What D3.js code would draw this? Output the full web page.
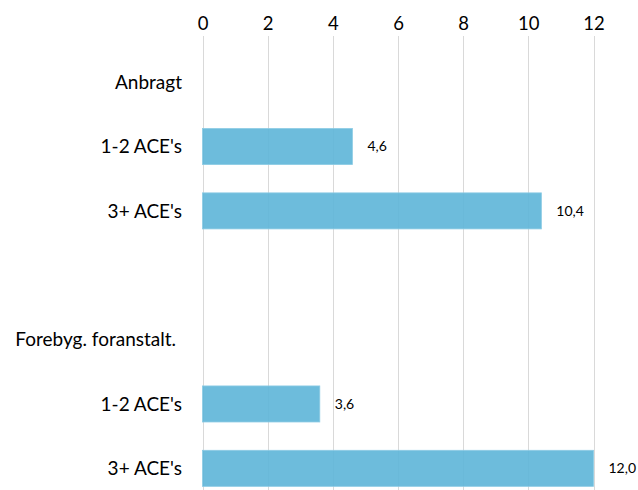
<!DOCTYPE html>
<html><head><meta charset="utf-8">
<script src="https://cdn.jsdelivr.net/npm/d3@7"></script>
<style>body{margin:0;background:#fff}svg{display:block}</style>
</head><body>
<svg id="c" width="638" height="490"></svg>
<script>
const rows = ["Anbragt", "1-2 ACE's a", "3+ ACE's a", "blank", "Forebyg. foranstalt.", "1-2 ACE's b", "3+ ACE's b"];
const rowLabels = ["Anbragt", "1-2 ACE's", "3+ ACE's", "", "Forebyg. foranstalt.", "1-2 ACE's", "3+ ACE's"];
const values = [null, 4.6, 10.4, null, null, 3.6, 12.0];
const ticks = [0, 2, 4, 6, 8, 10, 12];

const svg = d3.select("#c");
const font = "Lato, 'Open Sans', sans-serif";
const x = d3.scaleLinear().domain([0, 12]).range([202.5, 593.5]);
const y = d3.scaleBand().domain(rows).range([50, 500.5]).paddingInner(0.44).paddingOuter(0.22);

// gridlines
svg.append("g").selectAll("line").data(ticks).join("line")
  .attr("x1", d => Math.round(x(d)) + 0.5).attr("x2", d => Math.round(x(d)) + 0.5)
  .attr("y1", 36).attr("y2", 490)
  .attr("stroke", "#d9d9d9").attr("stroke-width", 1);

// top axis labels
const ax = svg.append("g").attr("transform", "translate(0,30)")
  .call(d3.axisTop(x).tickValues(ticks).tickSize(0).tickPadding(0).tickFormat(d3.format("d")));
ax.select(".domain").remove();
ax.selectAll("text").attr("font-family", font).attr("font-size", 18.5).attr("fill", "#000");

// bars
const data = rows.map((r, i) => ({r, label: rowLabels[i], v: values[i]}));
svg.append("g").selectAll("rect").data(data.filter(d => d.v != null)).join("rect")
  .attr("x", x(0)).attr("y", d => y(d.r))
  .attr("width", d => x(d.v) - x(0)).attr("height", y.bandwidth())
  .attr("fill", "#5db5d8").attr("fill-opacity", 0.9)
  .attr("stroke", "#8ccbe4").attr("stroke-width", 0.8);

// value labels
svg.append("g").selectAll("text").data(data.filter(d => d.v != null)).join("text")
  .attr("x", d => x(d.v) + 15).attr("y", d => y(d.r) + y.bandwidth() / 2)
  .attr("dy", "0.35em").attr("font-family", font).attr("font-size", 14).attr("fill", "#000")
  .text(d => d3.format(".1f")(d.v).replace(".", ","));

// category labels
svg.append("g").selectAll("text").data(data.filter(d => d.label)).join("text")
  .attr("x", d => d.label.startsWith("Forebyg") ? 176 : 182)
  .attr("y", d => y(d.r) + y.bandwidth() / 2)
  .attr("dy", "0.35em").attr("text-anchor", "end")
  .attr("font-family", font).attr("font-size", 19).attr("fill", "#000")
  .text(d => d.label);
</script>
</body></html>
